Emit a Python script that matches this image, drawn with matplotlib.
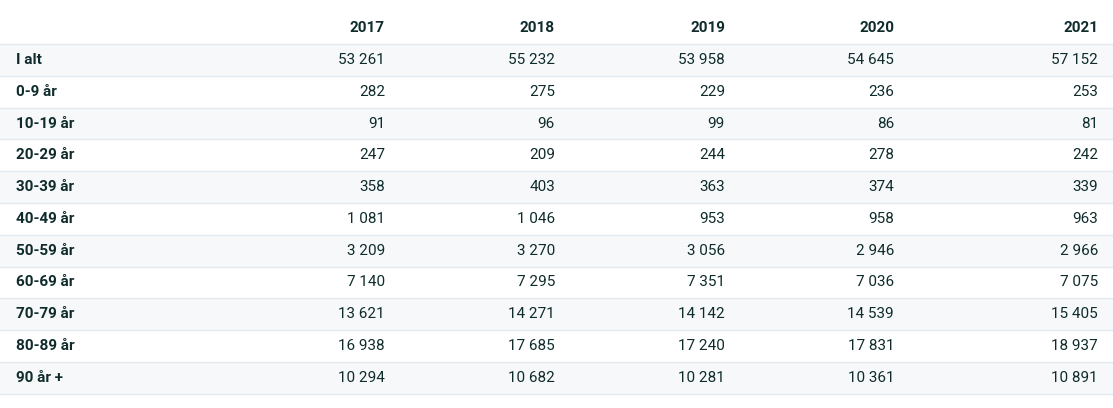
import matplotlib
matplotlib.use("Agg")
import matplotlib.pyplot as plt

years = ["2017", "2018", "2019", "2020", "2021"]
groups = ["I alt", "0-9 år", "10-19 år", "20-29 år", "30-39 år", "40-49 år",
          "50-59 år", "60-69 år", "70-79 år", "80-89 år", "90 år +"]
v2017 = [53261, 282, 91, 247, 358, 1081, 3209, 7140, 13621, 16938, 10294]
v2018 = [55232, 275, 96, 209, 403, 1046, 3270, 7295, 14271, 17685, 10682]
v2019 = [53958, 229, 99, 244, 363, 953, 3056, 7351, 14142, 17240, 10281]
v2020 = [54645, 236, 86, 278, 374, 958, 2946, 7036, 14539, 17831, 10361]
v2021 = [57152, 253, 81, 242, 339, 963, 2966, 7075, 15405, 18937, 10891]
columns = [v2017, v2018, v2019, v2020, v2021]

W, H = 1113, 408
txt = "#0f2b2b"
band = "#f6f8fa"
line = "#e4e9ed"
plt.rcParams['font.family'] = ['Roboto', 'DejaVu Sans']

fig = plt.figure(figsize=(W / 100, H / 100), dpi=100)
ax = fig.add_axes([0, 0, 1, 1])
ax.set_xlim(0, W)
ax.set_ylim(H, 0)
ax.axis("off")

col_right = [385, 555, 725, 894, 1098]
top = 44
row_h = 31.8
label_x = 16
fs = 11

def fmt(v):
    return f"{v:,}".replace(",", " ")

# header
for x, y in zip(col_right, years):
    ax.text(x, 28, y, ha="right", va="center", fontsize=fs, fontweight="bold", color=txt)

for i, g in enumerate(groups):
    y0 = top + i * row_h
    if i % 2 == 0:
        ax.add_patch(plt.Rectangle((0, y0), W, row_h, color=band, lw=0, zorder=0))
    ax.axhline(y0, color=line, lw=1, zorder=1)
    yc = y0 + row_h / 2
    ax.text(label_x, yc, g, ha="left", va="center", fontsize=fs, fontweight="bold", color=txt)
    for x, vals in zip(col_right, columns):
        ax.text(x, yc, fmt(vals[i]), ha="right", va="center", fontsize=fs, color=txt)
ax.axhline(top + len(groups) * row_h, color=line, lw=1, zorder=1)

fig.savefig("out.png", dpi=100, facecolor="white")
